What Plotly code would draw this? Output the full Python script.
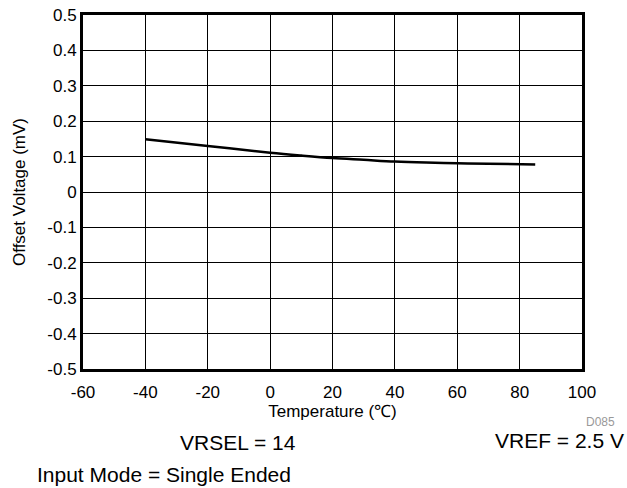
import plotly.graph_objects as go

# offset voltage vs temperature
temperature = [-40, -20, 0, 10, 20, 30, 40, 50, 60, 70, 85]
offset_mv = [0.149, 0.130, 0.111, 0.103, 0.096, 0.091, 0.086, 0.083, 0.081, 0.080, 0.078]

x_ticks = [-60, -40, -20, 0, 20, 40, 60, 80, 100]
x_tick_text = ["-60", "-40", "-20", "0", "20", "40", "60", "80", "100"]
y_ticks = [-0.5, -0.4, -0.3, -0.2, -0.1, 0, 0.1, 0.2, 0.3, 0.4, 0.5]
y_tick_text = ["-0.5", "-0.4", "-0.3", "-0.2", "-0.1", "0", "0.1", "0.2", "0.3", "0.4", "0.5"]

font_family = "Arial, Liberation Sans, sans-serif"

fig = go.Figure()
fig.add_trace(
    go.Scatter(
        x=temperature,
        y=offset_mv,
        mode="lines",
        line=dict(color="black", width=2.5, shape="spline", smoothing=1.0),
        showlegend=False,
    )
)

fig.update_layout(
    width=627,
    height=488,
    margin=dict(l=83, r=45, t=15, b=119, autoexpand=False),
    paper_bgcolor="white",
    plot_bgcolor="white",
    font=dict(family=font_family, size=17, color="black"),
)

# shared axis styling: black grid, heavy frame, no tick marks
axis_style = dict(
    showgrid=True,
    gridcolor="black",
    gridwidth=1,
    zeroline=False,
    showline=True,
    linecolor="black",
    linewidth=3,
    mirror=True,
    ticks="",
    automargin=False,
    tickfont=dict(size=17),
)

fig.update_xaxes(
    range=[-60, 100],
    tickvals=x_ticks,
    ticktext=x_tick_text,
    ticklabelstandoff=6,
    title=dict(text="Temperature (℃)", font=dict(size=17), standoff=3),
    **axis_style,
)
fig.update_yaxes(
    range=[-0.5, 0.5],
    tickvals=y_ticks,
    ticktext=y_tick_text,
    title=dict(text="Offset Voltage (mV)", font=dict(size=17), standoff=18),
    **axis_style,
)

fig.add_annotation(text="D085", xref="paper", yref="paper", x=1.070, y=-0.150,
                   xanchor="right", yanchor="middle", showarrow=False,
                   font=dict(size=12, color="#999999"))
fig.add_annotation(text="VRSEL = 14", xref="paper", yref="paper", x=0.311, y=-0.209,
                   xanchor="center", yanchor="middle", showarrow=False,
                   font=dict(size=21))
fig.add_annotation(text="VREF = 2.5 V", xref="paper", yref="paper", x=1.088, y=-0.203,
                   xanchor="right", yanchor="middle", showarrow=False,
                   font=dict(size=21))
fig.add_annotation(text="Input Mode = Single Ended", xref="paper", yref="paper", x=-0.096, y=-0.299,
                   xanchor="left", yanchor="middle", showarrow=False,
                   font=dict(size=21))

# drop the page's default body margin so the figure sits at the window's corner
fig.write_html(
    "out.html",
    config={"displayModeBar": False},
    post_script="document.body.style.margin = '0';",
)
